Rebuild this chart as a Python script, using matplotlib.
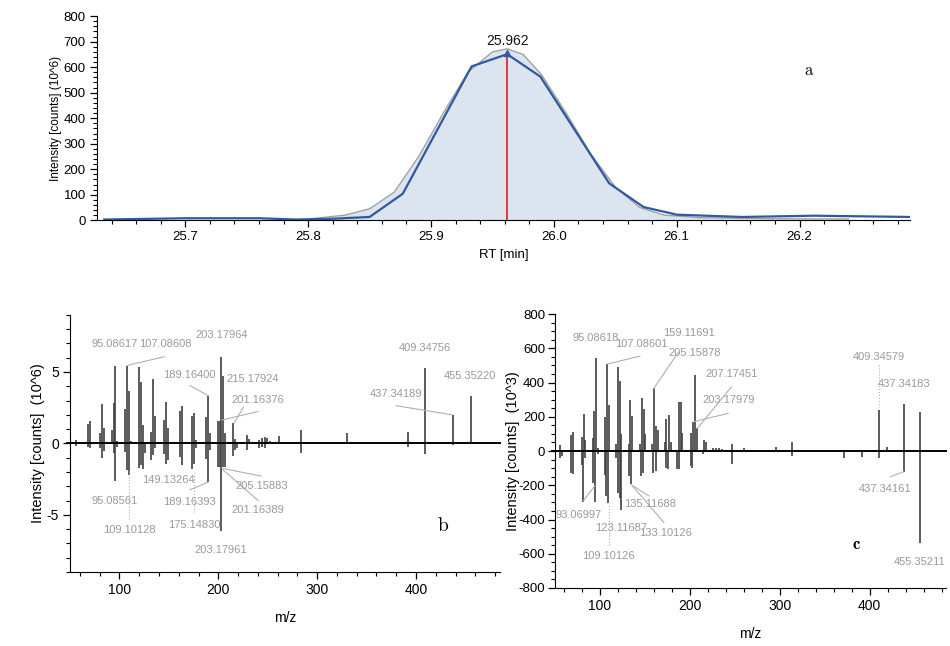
import matplotlib
matplotlib.use("Agg")
import matplotlib.pyplot as plt
from matplotlib.ticker import MultipleLocator

plt.rcParams['font.family'] = ['Liberation Sans Narrow', 'Liberation Sans', 'DejaVu Sans']
plt.rcParams['axes.unicode_minus'] = False
plt.rcParams['mathtext.fontset'] = 'cm'

# ---- panel a: chromatogram ----
rt_raw = [25.634, 25.70, 25.76, 25.79, 25.82, 25.85, 25.877, 25.933, 25.962,
          25.989, 26.045, 26.073, 26.10, 26.153, 26.212, 26.29]
int_raw = [3, 8, 8, 3, 6, 13, 104, 603, 651, 563, 145, 52, 22, 13, 18, 13]

rt_fit = [25.80, 25.83, 25.85, 25.87, 25.89, 25.91, 25.93, 25.95, 25.962,
          25.975, 25.99, 26.01, 26.03, 26.05, 26.07, 26.09, 26.12, 26.18, 26.24]
int_fit = [5, 20, 45, 110, 250, 420, 580, 660, 672, 650, 570, 420, 260, 130,
           50, 20, 10, 6, 5]

peak_rt = 25.962
peak_int = 655

# ---- panel b: mirror spectrum (10^6) ----
b_top_mz = [56, 58, 68, 70, 80, 82, 84, 92, 94, 96, 98, 106, 108, 110, 112,
            120, 122, 124, 132, 134, 136, 145, 147, 149, 161, 163, 173, 175,
            177, 188, 190, 192, 200, 201.5, 203, 205, 207, 215, 217, 229, 231,
            241, 244, 247, 249, 252, 261.5, 283.5, 330, 391.5, 409.3, 437.3,
            455.4, 466]
b_top_int = [0.23, 0.10, 1.34, 1.57, 0.75, 2.77, 1.08, 0.94, 2.86, 5.45, 0.16,
             2.42, 5.45, 3.66, 0.14, 5.36, 4.28, 1.30, 0.82, 4.54, 1.95, 1.65,
             2.87, 1.10, 2.28, 2.63, 1.95, 2.12, 0.24, 1.84, 3.34, 0.70, 1.60,
             1.60, 6.07, 4.70, 0.75, 1.46, 0.28, 0.60, 0.30, 0.25, 0.35, 0.45,
             0.40, 0.20, 0.52, 0.94, 0.70, 0.78, 5.30, 2.00, 3.30, 0.12]
b_bot_mz = [56, 68, 70, 80, 82, 84, 94, 96, 98, 106, 108, 110, 120, 122, 124,
            126, 132, 134, 136, 145, 147, 149, 161, 163, 173, 175, 177, 188,
            190, 192, 200, 201.5, 203, 205, 206.5, 215, 217, 219, 229, 241,
            244, 247, 283.5, 391.5, 409.3, 437.3]
b_bot_int = [-0.19, -0.24, -0.35, -0.35, -1.0, -0.52, -0.66, -2.6, -0.24, -0.6,
             -1.88, -2.24, -1.7, -1.53, -1.76, -0.7, -1.13, -0.82, -0.35, -0.75,
             -1.46, -1.13, -0.94, -1.53, -1.76, -1.41, -0.35, -1.06, -2.7,
             -0.47, -1.65, -1.65, -6.1, -1.65, -1.65, -0.9, -0.47, -0.35, -0.47,
             -0.3, -0.25, -0.3, -0.7, -0.24, -0.75, -0.12]

b_labels = [
    ("95.08617", 95.6, 6.94), ("107.08608", 146, 6.94),
    ("203.17964", 203.4, 7.58), ("189.16400", 170.4, 4.82),
    ("215.17924", 234.7, 4.52), ("201.16376", 239.7, 3.06),
    ("409.34756", 409.4, 6.7), ("455.35220", 455, 4.75),
    ("437.34189", 379.5, 3.46), ("149.13264", 149.5, -2.59),
    ("95.08561", 95, -4.0), ("189.16393", 170.4, -4.07),
    ("109.10128", 109.8, -6.07), ("175.14830", 175.4, -5.7),
    ("203.17961", 202.7, -7.48), ("205.15883", 243.8, -2.96),
    ("201.16389", 239.7, -4.66),
]
b_leaders = [
    (108, 5.46, 145.4, 6.07, '-'), (171.4, 4.05, 190, 3.34, '-'),
    (225.6, 2.54, 216.2, 1.46, '-'), (240, 2.23, 203.7, 1.64, '-'),
    (380, 2.64, 436.7, 2.0, '-'), (171.4, -3.25, 190, -2.7, '-'),
    (110.1, -5.3, 110.1, -1.8, ':'), (175.8, -4.8, 175.8, -2.1, ':'),
    (243, -2.28, 205, -1.76, '-'), (240.4, -4.0, 204.4, -1.83, '-'),
]

# ---- panel c: mirror spectrum (10^3) ----
c_top_mz = [56, 68, 70, 80, 82, 84, 92, 94, 96, 98, 106, 108, 110, 118, 120,
            122, 124, 132, 134, 136, 145, 147, 149, 150.5, 158, 160, 162,
            164.5, 172, 174, 176.5, 179, 187.5, 189.8, 191.3, 201.7, 204, 206,
            208.4, 215.8, 218, 226, 229, 233, 236, 247, 260, 296, 314, 410,
            419, 437.8, 455.6]
c_top_int = [35, 93, 113, 84, 214, 64, 78, 235, 541, 20, 196, 506, 270, 41,
             492, 408, 97, 41, 301, 204, 41, 307, 243, 97, 41, 366, 146, 123,
             55, 185, 210, 55, 288, 288, 103, 107, 171, 443, 132, 64, 55, 15,
             18, 20, 12, 41, 15, 21, 55, 239, 23, 272, 229]
c_bot_mz = [56, 58, 68, 70, 80, 81.5, 84, 92.6, 95.2, 98, 106, 107.4, 109.6,
            118, 120.4, 122.2, 123.7, 132.6, 134.8, 146.3, 148.5, 159.3, 162,
            174, 176, 185.6, 188, 201, 203, 215, 246.5, 314, 371, 391.5, 410,
            437.8, 455.6]
c_bot_int = [-39, -29, -126, -136, -82, -298, -40, -185, -298, -20, -140, -263,
             -302, -40, -243, -272, -344, -146, -195, -146, -126, -126, -117,
             -97, -107, -107, -103, -88, -97, -20, -78, -29, -43, -33, -43,
             -121, -539]

c_labels = [
    ("95.08618", 95.5, 658), ("107.08601", 146.4, 628),
    ("159.11691", 199.5, 687), ("205.15878", 205.8, 570),
    ("207.17451", 246.6, 449), ("203.17979", 243, 298),
    ("409.34579", 410, 551), ("437.34183", 437.8, 391),
    ("93.06997", 75.9, -374), ("123.11687", 124, -451),
    ("109.10126", 109.3, -613), ("135.11688", 155.7, -309),
    ("133.10126", 173, -481), ("437.34161", 417.4, -224),
    ("455.35211", 455.6, -646),
]
c_leaders = [
    (108.2, 508, 144.5, 554, '-'), (187, 575, 160.1, 366, '-'),
    (246.3, 375, 208.4, 132, '-'), (242.6, 220, 204.4, 171, '-'),
    (410, 502, 410, 259, ':'), (81.5, -292, 94.4, -204, '-'),
    (110.4, -549, 110.4, -305, ':'), (154.9, -263, 135.3, -198, '-'),
    (171.3, -418, 136.4, -204, '-'), (423, -150, 437.8, -121, '-'),
]

label_gray = '#9a9a9a'
bar_col = '#404040'

fig = plt.figure(figsize=(9.5, 6.46), dpi=100)
fig.patch.set_facecolor('white')


def style_axes(ax, size):
    for s in ['top', 'right']:
        ax.spines[s].set_visible(False)
    ax.tick_params(which='major', direction='out', length=5, width=0.9,
                   labelsize=size, pad=3)
    ax.tick_params(which='minor', direction='out', length=3, width=0.8)


# panel a
ax1 = fig.add_axes([0.102, 0.659, 0.856, 0.316])
ax1.fill_between(rt_fit, int_fit, color='#dce5ef', lw=0)
ax1.plot(rt_fit, int_fit, color='#a0a0a0', lw=1.0)
ax1.plot(rt_raw, int_raw, color='#2f5aa0', lw=1.6)
ax1.vlines(peak_rt, 0, peak_int, color='#d42020', lw=1.2)
ax1.plot([peak_rt], [peak_int], marker='^', color='#2f5aa0', ms=5)
ax1.text(peak_rt, peak_int + 22, "25.962", ha='center', va='bottom',
         fontsize=10, family=['Liberation Sans', 'DejaVu Sans'], color='#111')
ax1.text(26.208, 588, r"$\mathrm{a}$", fontsize=12, ha='center', va='center')
ax1.set_xlim(25.628, 26.29)
ax1.set_ylim(0, 800)
ax1.xaxis.set_major_locator(MultipleLocator(0.1))
ax1.xaxis.set_minor_locator(MultipleLocator(0.02))
ax1.yaxis.set_major_locator(MultipleLocator(100))
ax1.yaxis.set_minor_locator(MultipleLocator(20))
ax1.set_xticks([25.7, 25.8, 25.9, 26.0, 26.1, 26.2])
ax1.set_xticklabels(["25.7", "25.8", "25.9", "26.0", "26.1", "26.2"])
style_axes(ax1, 9.5)
ax1.set_xlabel("RT [min]", fontsize=9.5, family=['Liberation Sans', 'DejaVu Sans'])
ax1.set_ylabel("Intensity [counts] (10^6)", fontsize=8.5,
               family=['Liberation Sans', 'DejaVu Sans'], labelpad=1)


def mirror(ax, top_mz, top_int, bot_mz, bot_int, labels, leaders, lim, major, minor):
    ax.vlines(top_mz, 0, top_int, color=bar_col, lw=1.2)
    ax.vlines(bot_mz, 0, bot_int, color=bar_col, lw=1.2)
    ax.axhline(0, xmin=-0.008, xmax=1, color='black', lw=1.4, clip_on=False)
    for x1, y1, x2, y2, ls in leaders:
        ax.plot([x1, x2], [y1, y2], color='#b0b0b0', lw=0.8, ls=ls)
    for txt, x, y in labels:
        ax.text(x, y, txt, ha='center', va='center', fontsize=8, color=label_gray)
    ax.set_xlim(50, 485)
    ax.set_ylim(-lim, lim)
    ax.xaxis.set_major_locator(MultipleLocator(100))
    ax.xaxis.set_minor_locator(MultipleLocator(20))
    ax.yaxis.set_major_locator(MultipleLocator(major))
    ax.yaxis.set_minor_locator(MultipleLocator(minor))
    style_axes(ax, 10)


# panel b
ax2 = fig.add_axes([0.0737, 0.1146, 0.4526, 0.398])
mirror(ax2, b_top_mz, b_top_int, b_bot_mz, b_bot_int, b_labels, b_leaders, 9, 5, 1)
ax2.text(427, -5.8, r"$\mathrm{b}$", fontsize=14, ha='center', va='center')
ax2.set_xlabel("m/z", fontsize=10, labelpad=10)
ax2.set_ylabel("Intensity [counts]  (10^6)", fontsize=10.5,
               family=['Liberation Sans', 'DejaVu Sans'], labelpad=1)

# panel c
ax3 = fig.add_axes([0.584, 0.0898, 0.412, 0.424])
mirror(ax3, c_top_mz, c_top_int, c_bot_mz, c_bot_int, c_labels, c_leaders, 800, 200, 50)
ax3.tick_params(axis='y', labelsize=9.5, pad=2)
ax3.text(385, -545, r"$\mathbf{c}$", fontsize=12, ha='center', va='center')
ax3.set_xlabel("m/z", fontsize=10, labelpad=10)
ax3.set_ylabel("Intensity [counts]  (10^3)", fontsize=10.5,
               family=['Liberation Sans', 'DejaVu Sans'], labelpad=-1)

fig.savefig("out.png", dpi=100, facecolor='white')
